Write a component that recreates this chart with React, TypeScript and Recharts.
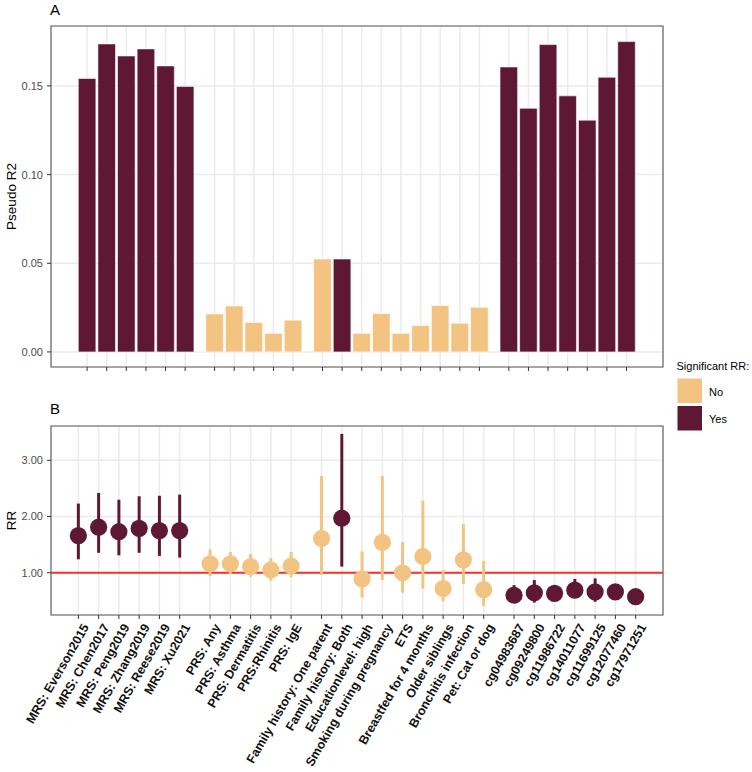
import React from "react";
import {
  ComposedChart,
  Bar,
  Cell,
  XAxis,
  YAxis,
  CartesianGrid,
  Scatter,
  ErrorBar,
  ReferenceLine,
  ReferenceArea,
} from "recharts";

// ---------- data ----------
const categories = [
  "MRS: Everson2015",
  "MRS: Chen2017",
  "MRS: Peng2019",
  "MRS: Zhang2019",
  "MRS: Reese2019",
  "MRS: Xu2021",
  "PRS: Any",
  "PRS: Asthma",
  "PRS: Dermatitis",
  "PRS:Rhinitis",
  "PRS: IgE",
  "Family history: One parent",
  "Family history: Both",
  "Educationlevel: high",
  "Smoking during pregnancy",
  "ETS",
  "Breastfed for 4 months",
  "Older siblings",
  "Bronchitis infection",
  "Pet: Cat or dog",
  "cg04983687",
  "cg09249800",
  "cg11986722",
  "cg14011077",
  "cg11699125",
  "cg12077460",
  "cg17971251",
];

const groups = [
  "MRS", "MRS", "MRS", "MRS", "MRS", "MRS",
  "PRS", "PRS", "PRS", "PRS", "PRS",
  "ENV", "ENV", "ENV", "ENV", "ENV", "ENV", "ENV", "ENV", "ENV",
  "CPG", "CPG", "CPG", "CPG", "CPG", "CPG", "CPG",
];
const groupOrder = ["MRS", "PRS", "ENV", "CPG"];

const pseudoR2 = [
  0.1542, 0.1737, 0.1669, 0.1709, 0.1613, 0.1497,
  0.0214, 0.0259, 0.0166, 0.0105, 0.0179,
  0.0524, 0.0524, 0.0105, 0.0216, 0.0105, 0.0149, 0.0262, 0.0162, 0.0252,
  0.1607, 0.1374, 0.1733, 0.1444, 0.1307, 0.1549, 0.175,
];

const rrEstimate = [
  1.66, 1.81, 1.73, 1.79, 1.75, 1.75,
  1.16, 1.16, 1.11, 1.05, 1.12,
  1.61, 1.97, 0.89, 1.54, 1.0, 1.29, 0.72, 1.23, 0.7,
  0.6, 0.645, 0.635, 0.69, 0.66, 0.66, 0.574,
];
const rrLower = [
  1.24, 1.355, 1.31, 1.355, 1.3, 1.27,
  0.94, 0.98, 0.93, 0.86, 0.92,
  0.96, 1.11, 0.56, 0.87, 0.645, 0.72, 0.49, 0.8, 0.41,
  0.47, 0.47, 0.5, 0.55, 0.485, 0.52, 0.44,
];
const rrUpper = [
  2.23, 2.42, 2.3, 2.36, 2.37, 2.39,
  1.415, 1.37, 1.33, 1.26, 1.37,
  2.72, 3.47, 1.38, 2.72, 1.545, 2.28, 1.05, 1.865, 1.21,
  0.78, 0.87, 0.76, 0.89, 0.9, 0.8, 0.7,
];

const significant = [
  "Yes", "Yes", "Yes", "Yes", "Yes", "Yes",
  "No", "No", "No", "No", "No",
  "No", "Yes", "No", "No", "No", "No", "No", "No", "No",
  "Yes", "Yes", "Yes", "Yes", "Yes", "Yes", "Yes",
];

const yTicksA = [0, 0.05, 0.1, 0.15];
const yTicksB = [1, 2, 3];
const legendTitle = "Significant RR:";
const legendLevels = ["No", "Yes"];

// ---------- styling ----------
const FONT = "'Liberation Sans', Arial, Helvetica, sans-serif";
const COLORS: Record<string, string> = { No: "#F3C382", Yes: "#5E1833" };
const GRID = "#EBEBEB";
const BORDER = "#5a5a5a";

const data = categories.map((name, i) => ({
  name,
  pos: i + 0.5 * groupOrder.indexOf(groups[i]),
  r2: pseudoR2[i],
  rr: rrEstimate[i],
  err: [rrEstimate[i] - rrLower[i], rrUpper[i] - rrEstimate[i]],
  sig: significant[i],
}));
const positions = data.map((d) => d.pos);
const labelAt = (v: number) => {
  const f = data.find((d) => Math.abs(d.pos - v) < 1e-6);
  return f ? f.name : "";
};
const dataYes = data.filter((d) => d.sig === "Yes");
const dataNo = data.filter((d) => d.sig === "No");

const domainAx: [number, number] = [-1.84, 29.36];
const domainAy: [number, number] = [-0.0085, 0.1838];
const domainBx: [number, number] = [-1.35, 28.85];
const domainBy: [number, number] = [0.249, 3.61];

const YTitle = (props: any) => {
  const vb = props.viewBox || { x: 0, y: 0, width: 51, height: 300 };
  const cx = 11.5;
  const cy = vb.y + vb.height / 2;
  return (
    <text
      x={cx}
      y={cy}
      transform={`rotate(-90 ${cx} ${cy})`}
      textAnchor="middle"
      dominantBaseline="central"
      fontSize={13.5}
      fontFamily={FONT}
      fill="#000"
    >
      {props.text}
    </text>
  );
};

const EmptyTick = () => <g />;

const RotTick = (props: any) => {
  const { x, y, payload } = props;
  return (
    <text
      transform={`translate(${x + 11},${y + 6}) rotate(-60)`}
      textAnchor="end"
      fontSize={12.5}
      fontWeight="bold"
      fontFamily={FONT}
      fill="#111"
    >
      {labelAt(payload.value)}
    </text>
  );
};

const yTickStyle = { fontSize: 11, fill: "#4D4D4D", fontFamily: FONT };

const Dot = (color: string) => (p: any) =>
  <circle cx={p.cx} cy={p.cy} r={8.6} fill={color} />;

export default function App() {
  return (
    <div style={{ position: "absolute", left: 0, top: 0, width: 752, height: 772, background: "#fff" }}>
      <div style={{ position: "absolute", left: 0, top: 0 }}>
        <ComposedChart
          width={752}
          height={380}
          data={data}
          margin={{ top: 26, right: 89, bottom: 0, left: 0 }}
        >
          <CartesianGrid stroke={GRID} strokeWidth={1.5} />
          <XAxis
            type="number"
            dataKey="pos"
            domain={domainAx}
            ticks={positions}
            interval={0}
            allowDataOverflow
            height={13}
            axisLine={false}
            tickSize={4}
            tickLine={{ stroke: "#333" }}
            tick={<EmptyTick />}
          />
          <YAxis
            type="number"
            domain={domainAy}
            ticks={yTicksA}
            allowDataOverflow
            width={51}
            axisLine={false}
            tickSize={4}
            tickMargin={4}
            tickLine={{ stroke: "#333" }}
            tick={yTickStyle}
            tickFormatter={(v: number) => v.toFixed(2)}
            label={<YTitle text="Pseudo R2" />}
          />
          <Bar dataKey="r2" barSize={17.6} isAnimationActive={false}>
            {data.map((d, i) => (
              <Cell key={i} fill={COLORS[d.sig]} stroke="#ffffff" strokeWidth={0.6} />
            ))}
          </Bar>
          <ReferenceArea
            x1={domainAx[0]}
            x2={domainAx[1]}
            y1={domainAy[0]}
            y2={domainAy[1]}
            fill="none"
            fillOpacity={0}
            stroke={BORDER}
            strokeWidth={1.1}
            ifOverflow="visible"
          />
        </ComposedChart>
      </div>
      <div style={{ position: "absolute", left: 0, top: 380 }}>
        <ComposedChart
          width={752}
          height={392}
          margin={{ top: 46, right: 89, bottom: 0, left: 0 }}
        >
          <CartesianGrid stroke={GRID} strokeWidth={1.5} />
          <XAxis
            type="number"
            dataKey="pos"
            domain={domainBx}
            ticks={positions}
            interval={0}
            allowDataOverflow
            height={157}
            axisLine={false}
            tickSize={4}
            tickMargin={2}
            tickLine={{ stroke: "#333" }}
            tick={<RotTick />}
          />
          <YAxis
            type="number"
            dataKey="rr"
            domain={domainBy}
            ticks={yTicksB}
            allowDataOverflow
            width={51}
            axisLine={false}
            tickSize={4}
            tickMargin={4}
            tickLine={{ stroke: "#333" }}
            tick={yTickStyle}
            tickFormatter={(v: number) => v.toFixed(2)}
            label={<YTitle text="RR" />}
          />
          <ReferenceLine y={1} stroke="#FF2A2A" strokeWidth={2} />
          <Scatter data={dataNo} isAnimationActive={false} shape={Dot(COLORS.No)}>
            <ErrorBar dataKey="err" direction="y" width={0} stroke={COLORS.No} strokeWidth={3} />
          </Scatter>
          <Scatter data={dataYes} isAnimationActive={false} shape={Dot(COLORS.Yes)}>
            <ErrorBar dataKey="err" direction="y" width={0} stroke={COLORS.Yes} strokeWidth={3} />
          </Scatter>
          <ReferenceArea
            x1={domainBx[0]}
            x2={domainBx[1]}
            y1={domainBy[0]}
            y2={domainBy[1]}
            fill="none"
            fillOpacity={0}
            stroke={BORDER}
            strokeWidth={1.1}
            ifOverflow="visible"
          />
        </ComposedChart>
      </div>
      <svg
        width={752}
        height={772}
        style={{ position: "absolute", left: 0, top: 0, pointerEvents: "none" }}
      >
        <text x={50} y={14.5} fontSize={15} fontFamily={FONT} fill="#000">A</text>
        <text x={50} y={413.5} fontSize={15} fontFamily={FONT} fill="#000">B</text>
        <text x={676.5} y={370} fontSize={11} fontFamily={FONT} fill="#000">{legendTitle}</text>
        {legendLevels.map((lv, i) => (
          <g key={lv}>
            <rect x={677.5} y={378.5 + i * 27.5} width={24.5} height={24.5} fill={COLORS[lv]} />
            <text x={709} y={395.5 + i * 27.5} fontSize={11} fontFamily={FONT} fill="#000">{lv}</text>
          </g>
        ))}
      </svg>
    </div>
  );
}
